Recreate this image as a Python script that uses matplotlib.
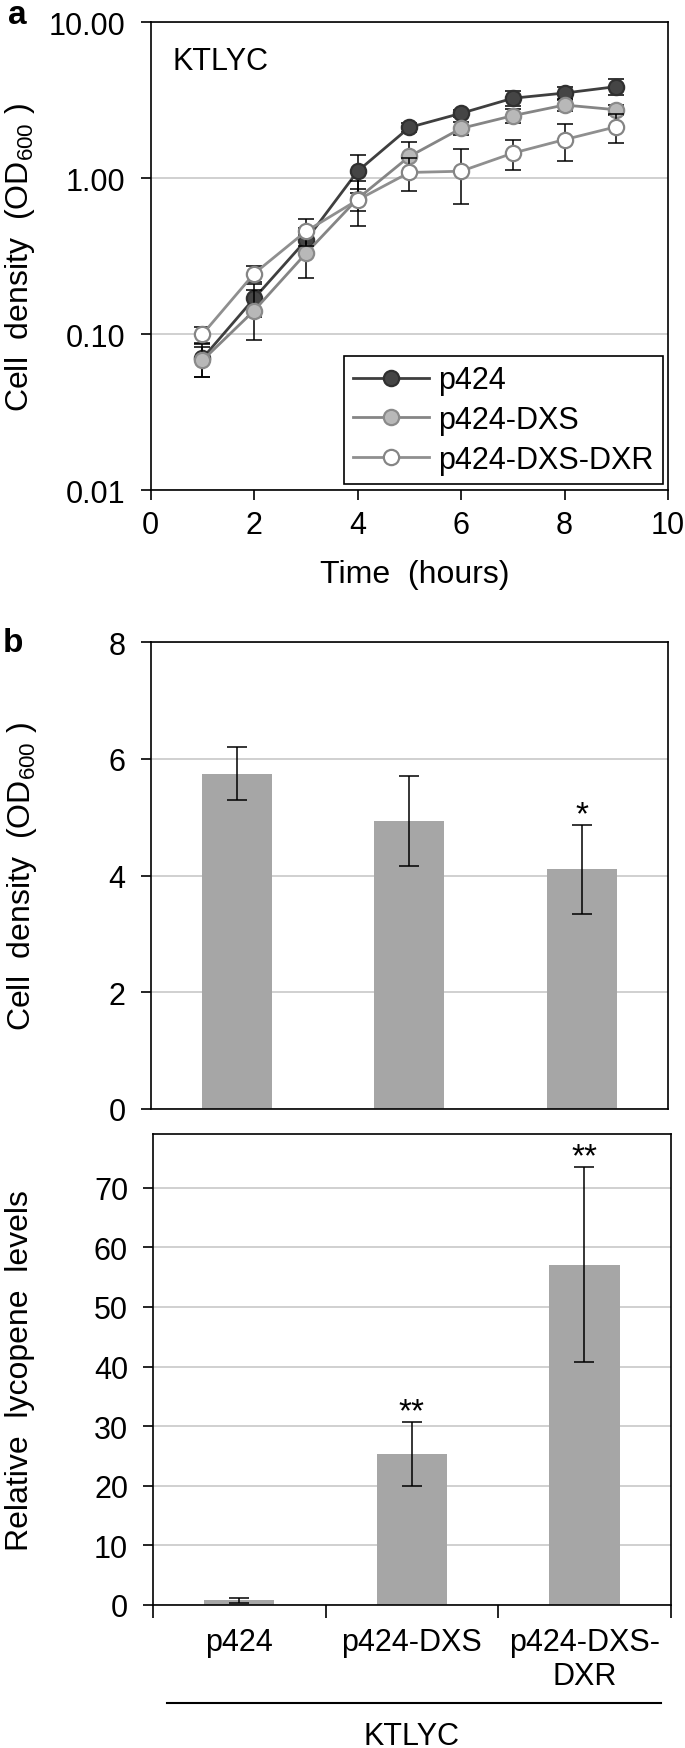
import matplotlib
matplotlib.use("Agg")
import matplotlib.pyplot as plt
from matplotlib.lines import Line2D
from matplotlib.ticker import FixedLocator, NullFormatter

plt.rcParams['font.family'] = ['Liberation Sans', 'DejaVu Sans']
plt.rcParams['mathtext.fontset'] = 'custom'
plt.rcParams['mathtext.rm'] = 'Liberation Sans'

# ---------------- data ----------------
hours = [1, 2, 3, 4, 5, 6, 7, 8, 9]
series_names = ['p424', 'p424-DXS', 'p424-DXS-DXR']
od_p424 = [0.070, 0.170, 0.40, 1.11, 2.12, 2.61, 3.26, 3.52, 3.87]
err_p424 = [0.017, 0.040, 0.08, 0.30, 0.15, 0.15, 0.35, 0.35, 0.45]
od_dxs = [0.068, 0.142, 0.33, 0.74, 1.38, 2.09, 2.52, 2.95, 2.75]
err_dxs = [0.015, 0.050, 0.10, 0.12, 0.32, 0.20, 0.26, 0.25, 0.20]
od_dxr = [0.100, 0.245, 0.457, 0.726, 1.09, 1.11, 1.45, 1.77, 2.14]
err_dxr = [0.012, 0.030, 0.09, 0.23, 0.26, 0.43, 0.32, 0.47, 0.46]

log_ticks = [0.01, 0.1, 1, 10]
log_tick_labels = ['0.01', '0.10', '1.00', '10.00']

strains = ['p424', 'p424-DXS', 'p424-DXS-\nDXR']
final_od = [5.75, 4.93, 4.11]
final_od_err = [0.45, 0.77, 0.76]
od_marks = ['', '', '*']
lycopene = [0.8, 25.3, 57.1]
lycopene_err = [0.4, 5.4, 16.4]
lyc_marks = ['', '**', '**']

FS = 22
W, H = 685, 1749
fig = plt.figure(figsize=(W / 100, H / 100), dpi=100)


def rect(x0, y0, x1, y1):
    return [x0 / W, 1 - y1 / H, (x1 - x0) / W, (y1 - y0) / H]


def style_axes(ax):
    for s in ax.spines.values():
        s.set_linewidth(1.2)
        s.set_color('black')
    ax.tick_params(axis='both', labelsize=FS, width=1.2, length=7, color='black')
    ax.set_axisbelow(True)


# ---------------- panel a ----------------
ax = fig.add_axes(rect(150.7, 23.3, 668, 491.3))
style_axes(ax)
ax.set_yscale('log')
ax.set_ylim(0.01, 10)
ax.set_xlim(0, 10)
ax.set_yticks(log_ticks)
ax.set_yticklabels(log_tick_labels)
ax.yaxis.set_minor_locator(FixedLocator([]))
ax.set_xticks(range(0, 11, 2))
ax.tick_params(axis='y', pad=11)
ax.tick_params(axis='x', pad=7)
ax.grid(axis='y', which='major', color='#d0d0d0', lw=1.4)

styles = [
    dict(color='#3f3f3f', mfc='#454545', mec='#303030'),
    dict(color='#858585', mfc='#b8b8b8', mec='#8a8a8a'),
    dict(color='#8f8f8f', mfc='white', mec='#858585'),
]
for i, (vals, errs) in enumerate([(od_p424, err_p424), (od_dxs, err_dxs), (od_dxr, err_dxr)]):
    st = styles[i]
    ax.errorbar(hours, vals, yerr=errs, fmt='none', ecolor='black', elinewidth=1.1,
                capsize=6, capthick=1.1, zorder=3 + 2 * i)
    ax.plot(hours, vals, color=st['color'], lw=2.0, marker='o', ms=11, mew=1.6,
            mfc=st['mfc'], mec=st['mec'], label=series_names[i], zorder=4 + 2 * i)

ax.text(0.043, 0.917, 'KTLYC', transform=ax.transAxes, fontsize=FS, ha='left', va='center')
leg = ax.legend(loc='lower right', bbox_to_anchor=(0.9904, 0.0135), borderaxespad=0,
                fancybox=False, edgecolor='black', framealpha=1, fontsize=FS,
                handlelength=2.5, handletextpad=0.3, labelspacing=0.32, borderpad=0.3)
leg.get_frame().set_linewidth(1.2)
ax.set_xlabel('Time  (hours)', fontsize=23, va='center')
ax.xaxis.set_label_coords((415 - 150.7) / 517.3, -(575 - 491.3) / 468)
ax.set_ylabel('Cell  density  (OD$_{\\mathregular{600}}$ )', fontsize=23, va='center')
ax.yaxis.set_label_coords((20 - 150.7) / 517.3, 0.5)

fig.text(17 / W, 1 - 15 / H, 'a', fontsize=24, fontweight='bold', ha='center', va='center')
fig.text(13 / W, 1 - 643 / H, 'b', fontsize=24, fontweight='bold', ha='center', va='center')

# ---------------- panel b (top) ----------------
pos = list(range(len(strains)))
ax1 = fig.add_axes(rect(150.7, 643.3, 668, 1110))
style_axes(ax1)
ax1.bar(pos, final_od, width=0.406, color='#a6a6a6', zorder=2)
ax1.errorbar(pos, final_od, yerr=final_od_err, fmt='none', ecolor='black', elinewidth=1.1,
             capsize=7, capthick=1.1, zorder=3)
for i, m in enumerate(od_marks):
    if m:
        ax1.annotate(m, (pos[i], final_od[i] + final_od_err[i]), xytext=(0, -4),
                     textcoords='offset points', ha='center', va='bottom', fontsize=24)
ax1.set_xlim(-0.5, len(strains) - 0.5)
ax1.set_ylim(0, 8)
ax1.set_yticks(range(0, 9, 2))
ax1.tick_params(axis='y', pad=11)
ax1.tick_params(axis='x', length=0, labelbottom=False)
ax1.grid(axis='y', color='#d0d0d0', lw=1.4)
ax1.set_ylabel('Cell  density  (OD$_{\\mathregular{600}}$ )', fontsize=23, va='center')
ax1.yaxis.set_label_coords((22 - 150.7) / 517.3, 0.5)

# ---------------- panel b (bottom) ----------------
ax2 = fig.add_axes(rect(153, 1135, 670.8, 1606))
style_axes(ax2)
ax2.bar(pos, lycopene, width=0.406, color='#a6a6a6', zorder=2)
ax2.errorbar(pos, lycopene, yerr=lycopene_err, fmt='none', ecolor='black', elinewidth=1.1,
             capsize=7, capthick=1.1, zorder=3)
for i, m in enumerate(lyc_marks):
    if m:
        ax2.annotate(m, (pos[i], lycopene[i] + lycopene_err[i]), xytext=(0, -4),
                     textcoords='offset points', ha='center', va='bottom', fontsize=24)
ax2.set_xlim(-0.5, len(strains) - 0.5)
ax2.set_ylim(0, 79)
ax2.set_yticks(range(0, 71, 10))
ax2.tick_params(axis='y', pad=11)
ax2.set_xticks(pos)
ax2.set_xticklabels(strains, fontsize=FS, linespacing=1.15)
ax2.tick_params(axis='x', which='major', length=0, pad=16)
ax2.xaxis.set_minor_locator(FixedLocator([p + 0.5 for p in pos[:-1]] + [-0.5, len(strains) - 0.5]))
ax2.xaxis.set_minor_formatter(NullFormatter())
ax2.tick_params(axis='x', which='minor', length=9, width=1.2, color='black')
ax2.grid(axis='y', color='#d0d0d0', lw=1.4)
ax2.set_ylabel('Relative  lycopene  levels', fontsize=23, va='center')
ax2.yaxis.set_label_coords((20 - 153) / 517.8, 0.5)

fig.add_artist(Line2D([167 / W, 661 / W], [1 - 1704 / H] * 2, color='black', lw=1.5))
fig.text(411 / W, 1 - 1737 / H, 'KTLYC', fontsize=FS, ha='center', va='center')

fig.savefig('out.png', dpi=100)
